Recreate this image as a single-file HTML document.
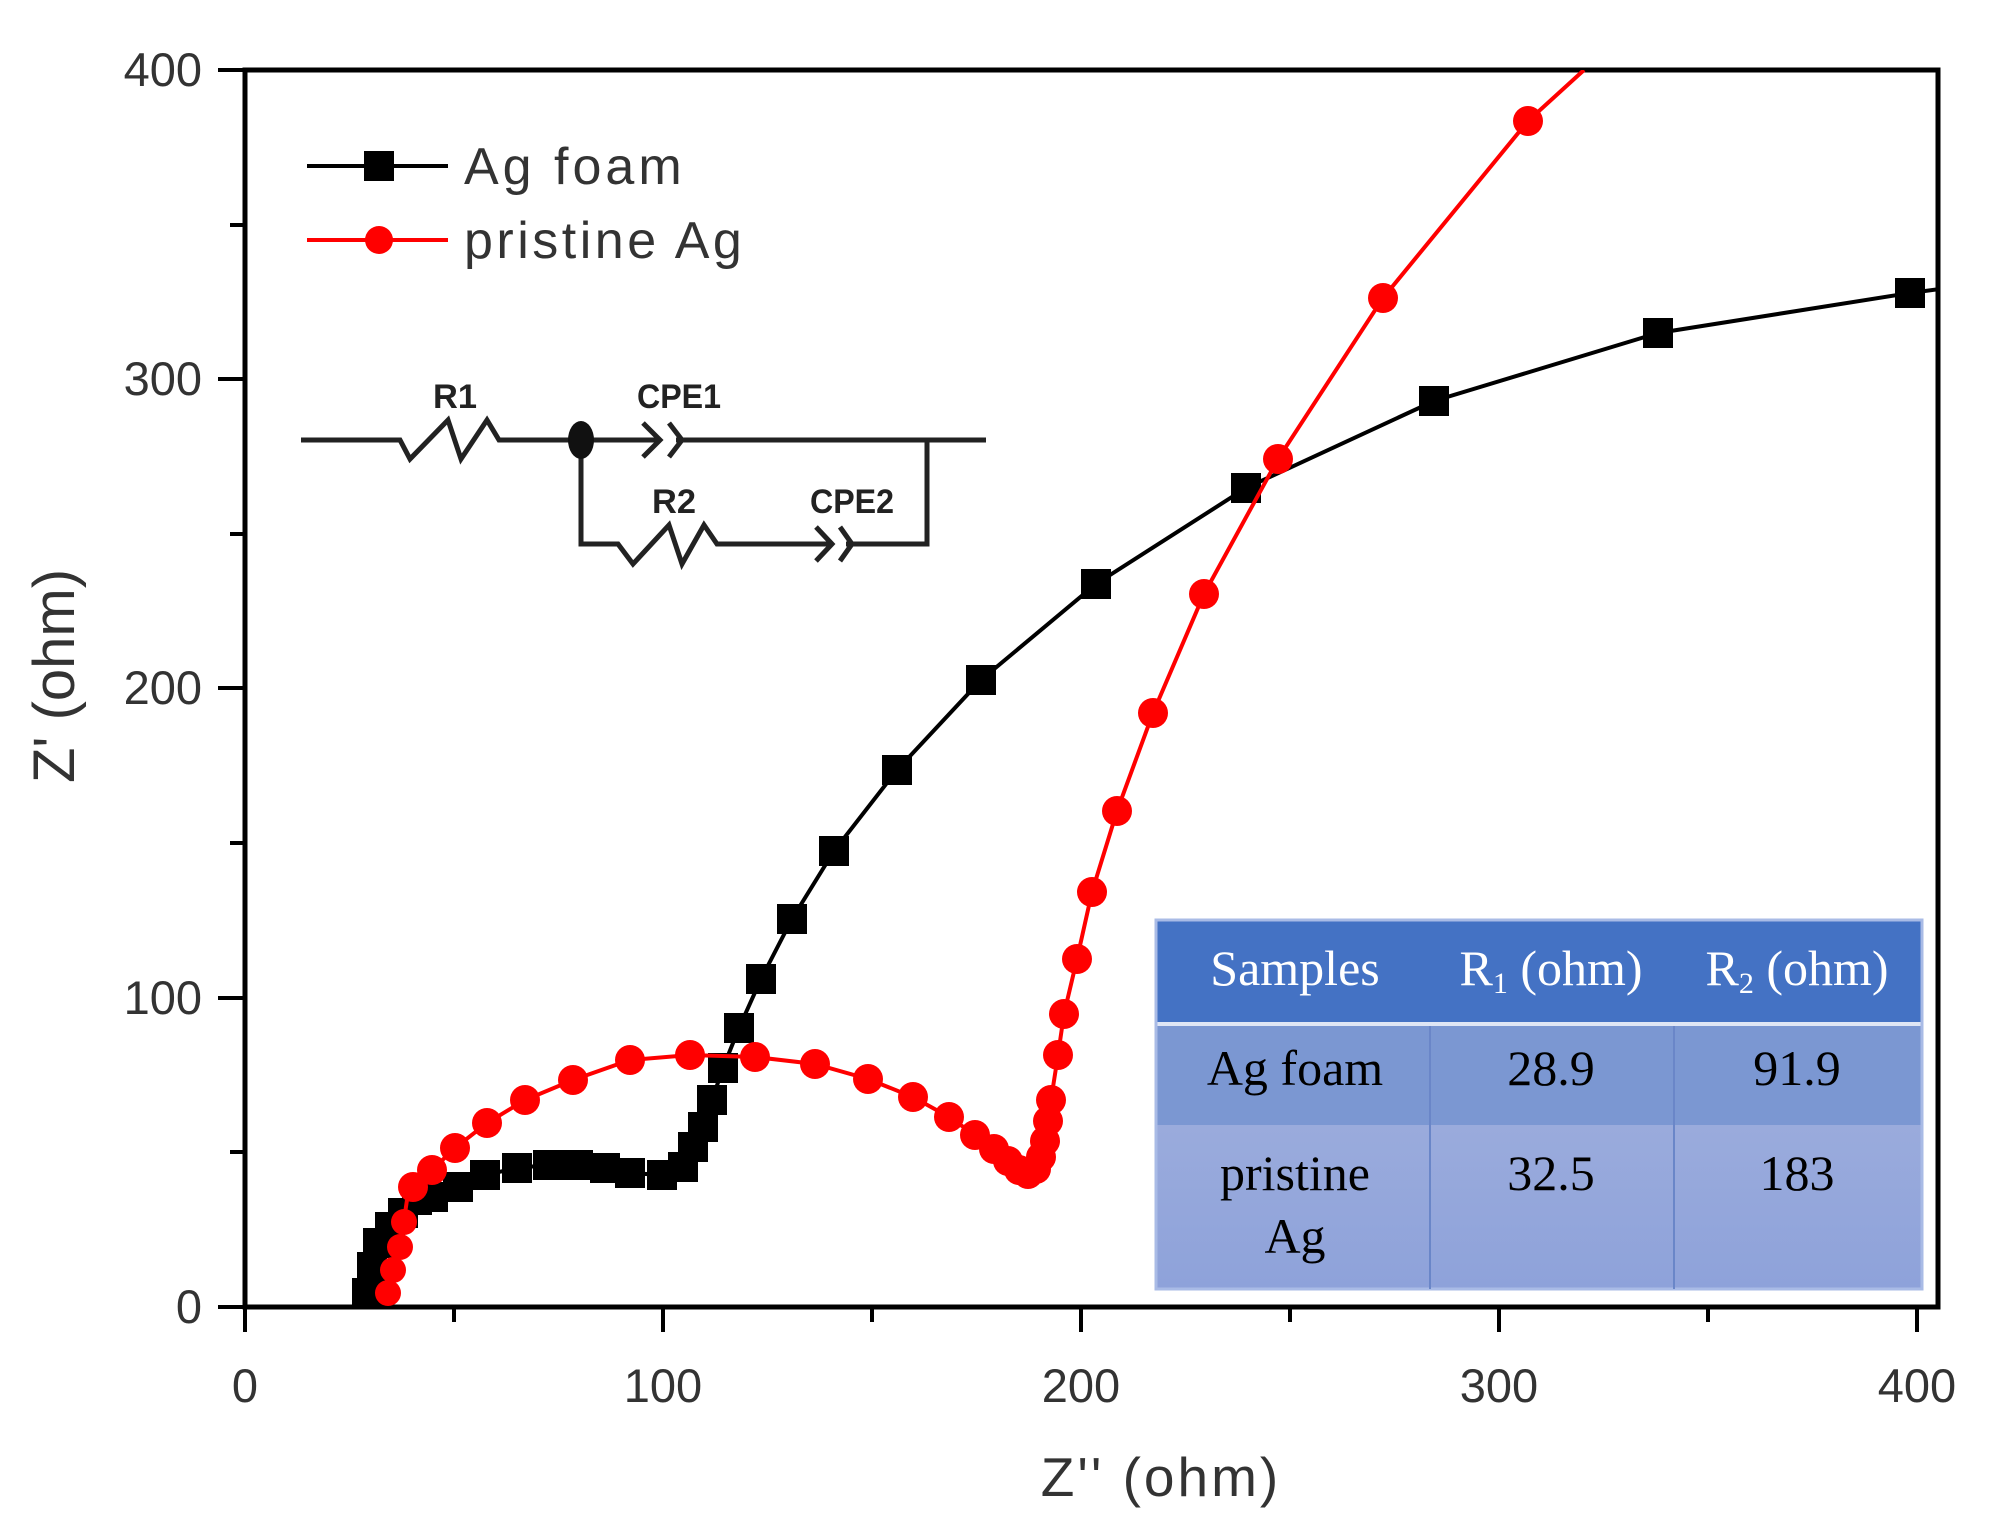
<!DOCTYPE html>
<html><head><meta charset="utf-8"><style>
html,body{margin:0;padding:0;background:#fff;}
svg{display:block;}
</style></head><body>
<svg width="2008" height="1524" viewBox="0 0 2008 1524" xmlns="http://www.w3.org/2000/svg">
<defs>
<clipPath id="c"><rect x="245" y="70" width="1693" height="1237"/></clipPath>
<linearGradient id="g2" x1="0" y1="0" x2="0" y2="1">
<stop offset="0" stop-color="#9aabdc"/><stop offset="1" stop-color="#8ea2da"/>
</linearGradient>
</defs>
<rect width="2008" height="1524" fill="#fff"/>
<rect x="245" y="70" width="1693" height="1237" fill="none" stroke="#000" stroke-width="5"/>
<g stroke="#000" stroke-width="4">
<line x1="218" y1="70" x2="245" y2="70"/><line x1="218" y1="379" x2="245" y2="379"/>
<line x1="218" y1="688" x2="245" y2="688"/><line x1="218" y1="998" x2="245" y2="998"/>
<line x1="218" y1="1307" x2="245" y2="1307"/>
<line x1="230" y1="225" x2="245" y2="225"/><line x1="230" y1="534" x2="245" y2="534"/>
<line x1="230" y1="843" x2="245" y2="843"/><line x1="230" y1="1152" x2="245" y2="1152"/>
<line x1="245" y1="1307" x2="245" y2="1332"/><line x1="663" y1="1307" x2="663" y2="1332"/>
<line x1="1081" y1="1307" x2="1081" y2="1332"/><line x1="1499" y1="1307" x2="1499" y2="1332"/>
<line x1="1917" y1="1307" x2="1917" y2="1332"/>
<line x1="454" y1="1307" x2="454" y2="1322"/><line x1="872" y1="1307" x2="872" y2="1322"/>
<line x1="1290" y1="1307" x2="1290" y2="1322"/><line x1="1708" y1="1307" x2="1708" y2="1322"/>
</g>
<g font-family="Liberation Sans, sans-serif" font-size="47" fill="#333" text-anchor="end">
<text x="202" y="86">400</text><text x="202" y="395">300</text><text x="202" y="704">200</text>
<text x="202" y="1014">100</text><text x="202" y="1323">0</text>
</g>
<g font-family="Liberation Sans, sans-serif" font-size="47" fill="#333" text-anchor="middle">
<text x="245" y="1402">0</text><text x="663" y="1402">100</text><text x="1081" y="1402">200</text>
<text x="1499" y="1402">300</text><text x="1917" y="1402">400</text>
</g>
<text x="1161" y="1496" font-family="Liberation Sans, sans-serif" font-size="55" fill="#333" text-anchor="middle" letter-spacing="3">Z'' (ohm)</text>
<text transform="translate(74,676) rotate(-90)" font-family="Liberation Sans, sans-serif" font-size="58" fill="#333" text-anchor="middle">Z' (ohm)</text>

<line x1="307" y1="166" x2="448" y2="166" stroke="#000" stroke-width="4"/>
<rect x="364" y="151" width="30" height="30" fill="#000"/>
<text x="464" y="184" font-family="Liberation Sans, sans-serif" font-size="52" fill="#333" letter-spacing="4">Ag foam</text>
<line x1="307" y1="240" x2="448" y2="240" stroke="#f00" stroke-width="4"/>
<circle cx="379" cy="240" r="14" fill="#f00"/>
<text x="464" y="258" font-family="Liberation Sans, sans-serif" font-size="52" fill="#333" letter-spacing="3.5">pristine Ag</text>

<g stroke="#222" stroke-width="5" fill="none" stroke-linejoin="miter">
<polyline points="301,440 400,440 410,459 448,420 461,459 487,420 499,440 581,440 660,440"/>
<polyline points="643,423 660,440 643,457"/>
<polyline points="669,423 682,440 669,457"/>
<polyline points="676,440 986,440"/>
<polyline points="581,440 581,544 618,544 633,564 669,525 682,564 704,525 717,544 832,544"/>
<polyline points="816,527 832,544 816,561"/>
<polyline points="840,527 852,544 840,561"/>
<polyline points="846,544 927,544 927,440"/>
</g>
<ellipse cx="581" cy="440" rx="13" ry="19" fill="#111"/>
<g font-family="Liberation Sans, sans-serif" font-size="34" font-weight="bold" fill="#222" text-anchor="middle">
<text x="455" y="408" textLength="44" lengthAdjust="spacingAndGlyphs">R1</text>
<text x="679" y="408" textLength="84" lengthAdjust="spacingAndGlyphs">CPE1</text>
<text x="674" y="513" textLength="44" lengthAdjust="spacingAndGlyphs">R2</text>
<text x="852" y="513" textLength="84" lengthAdjust="spacingAndGlyphs">CPE2</text>
</g>

<g clip-path="url(#c)">
<polyline fill="none" stroke="#000" stroke-width="4" points="367,1293 372,1267 378,1243 390,1227 403,1213 417,1200 433,1197 458,1187 485,1175 517,1168 548,1165 578,1165 605,1168 630,1173 662,1175 683,1167 693,1147 703,1127 712,1100 723,1068 739,1028 761,979 792,919 834,851 897,770 981,680 1096,584 1246,488 1434,401 1658,333 1910,293 1940,289"/>
<g fill="#000">
<rect x="352" y="1278" width="30" height="30"/><rect x="357" y="1252" width="30" height="30"/>
<rect x="363" y="1228" width="30" height="30"/><rect x="375" y="1212" width="30" height="30"/>
<rect x="388" y="1198" width="30" height="30"/><rect x="402" y="1185" width="30" height="30"/>
<rect x="418" y="1182" width="30" height="30"/><rect x="443" y="1172" width="30" height="30"/>
<rect x="470" y="1160" width="30" height="30"/><rect x="502" y="1153" width="30" height="30"/>
<rect x="533" y="1150" width="30" height="30"/><rect x="563" y="1150" width="30" height="30"/>
<rect x="590" y="1153" width="30" height="30"/><rect x="615" y="1158" width="30" height="30"/>
<rect x="647" y="1160" width="30" height="30"/><rect x="668" y="1152" width="30" height="30"/>
<rect x="678" y="1132" width="30" height="30"/><rect x="688" y="1112" width="30" height="30"/>
<rect x="697" y="1085" width="30" height="30"/><rect x="708" y="1053" width="30" height="30"/>
<rect x="724" y="1013" width="30" height="30"/><rect x="746" y="964" width="30" height="30"/>
<rect x="777" y="904" width="30" height="30"/><rect x="819" y="836" width="30" height="30"/>
<rect x="882" y="755" width="30" height="30"/><rect x="966" y="665" width="30" height="30"/>
<rect x="1081" y="569" width="30" height="30"/><rect x="1231" y="473" width="30" height="30"/>
<rect x="1419" y="386" width="30" height="30"/><rect x="1643" y="318" width="30" height="30"/>
<rect x="1895" y="278" width="30" height="30"/>
</g>
<polyline fill="none" stroke="#f00" stroke-width="4" points="388,1293 393,1270 400,1247 407,1200 413,1187 432,1170 455,1148 487,1123 525,1100 573,1080 630,1060 690,1055 755,1057 815,1064 868,1079 913,1097 949,1117 975,1135 994,1149 1008,1161 1019,1170 1028,1174 1036,1169 1041,1157 1045,1141 1048,1121 1051,1100 1058,1055 1064,1014 1077,959 1092,892 1117,811 1153,713 1204,594 1278,459 1383,298 1528,121 1584,70"/>
<g fill="#f00">
<circle cx="388" cy="1293" r="13"/><circle cx="393" cy="1270" r="13"/><circle cx="400" cy="1247" r="13"/>
<circle cx="404" cy="1222" r="13"/><circle cx="413" cy="1187" r="15"/><circle cx="432" cy="1170" r="15"/>
<circle cx="455" cy="1148" r="15"/><circle cx="487" cy="1123" r="15"/><circle cx="525" cy="1100" r="15"/>
<circle cx="573" cy="1080" r="15"/><circle cx="630" cy="1060" r="15"/><circle cx="690" cy="1055" r="15"/>
<circle cx="755" cy="1057" r="15"/><circle cx="815" cy="1064" r="15"/><circle cx="868" cy="1079" r="15"/>
<circle cx="913" cy="1097" r="15"/><circle cx="949" cy="1117" r="15"/><circle cx="975" cy="1135" r="15"/>
<circle cx="994" cy="1149" r="15"/><circle cx="1008" cy="1161" r="15"/><circle cx="1019" cy="1170" r="15"/>
<circle cx="1028" cy="1174" r="15"/><circle cx="1036" cy="1169" r="15"/><circle cx="1041" cy="1157" r="15"/>
<circle cx="1045" cy="1141" r="15"/><circle cx="1048" cy="1121" r="15"/><circle cx="1051" cy="1100" r="15"/>
<circle cx="1058" cy="1055" r="15"/><circle cx="1064" cy="1014" r="15"/><circle cx="1077" cy="959" r="15"/>
<circle cx="1092" cy="892" r="15"/><circle cx="1117" cy="811" r="15"/><circle cx="1153" cy="713" r="15"/>
<circle cx="1204" cy="594" r="15"/><circle cx="1278" cy="459" r="15"/><circle cx="1383" cy="298" r="15"/>
<circle cx="1528" cy="121" r="15"/>
</g>
</g>

<rect x="1156" y="920" width="766" height="102" fill="#4472c4"/>
<rect x="1156" y="1022" width="766" height="4" fill="#dfe6f5"/>
<rect x="1156" y="1026" width="766" height="99" fill="#7b97d2"/>
<rect x="1156" y="1125" width="766" height="164" fill="url(#g2)"/>
<rect x="1156" y="920" width="766" height="369" fill="none" stroke="#a9bbe6" stroke-width="3"/>
<line x1="1430" y1="1026" x2="1430" y2="1289" stroke="#6a86c8" stroke-width="2"/>
<line x1="1674" y1="1026" x2="1674" y2="1289" stroke="#6a86c8" stroke-width="2"/>
<g font-family="Liberation Serif, serif" font-size="50" text-anchor="middle">
<text x="1295" y="985" fill="#fff">Samples</text>
<text x="1551" y="985" fill="#fff">R<tspan font-size="30" dy="8">1</tspan><tspan dy="-8"> (ohm)</tspan></text>
<text x="1797" y="985" fill="#fff">R<tspan font-size="30" dy="8">2</tspan><tspan dy="-8"> (ohm)</tspan></text>
<text x="1295" y="1085" fill="#000">Ag foam</text>
<text x="1551" y="1085" fill="#000">28.9</text>
<text x="1797" y="1085" fill="#000">91.9</text>
<text x="1295" y="1190" fill="#000">pristine</text>
<text x="1295" y="1253" fill="#000">Ag</text>
<text x="1551" y="1190" fill="#000">32.5</text>
<text x="1797" y="1190" fill="#000">183</text>
</g>
</svg>
</body></html>
